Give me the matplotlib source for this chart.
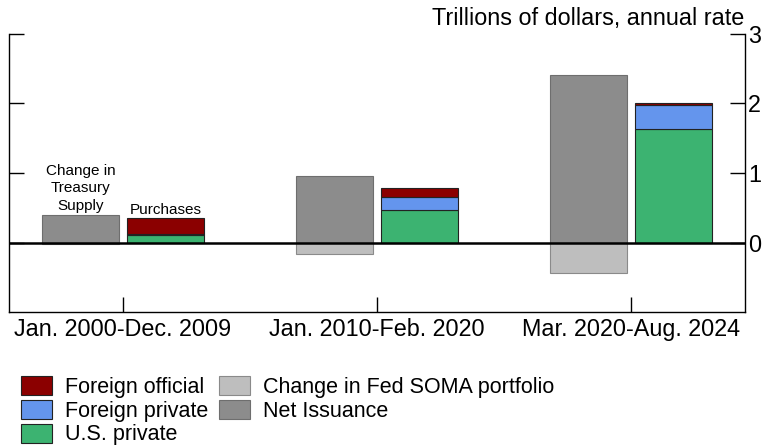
import matplotlib.pyplot as plt
import numpy as np

plt.rcParams['font.family'] = ['Liberation Sans', 'DejaVu Sans']

periods = ['Jan. 2000-Dec. 2009', 'Jan. 2010-Feb. 2020', 'Mar. 2020-Aug. 2024']
net_issuance = [0.39, 0.95, 2.41]
soma_change = [-0.02, -0.17, -0.43]
us_private = [0.115, 0.47, 1.63]
foreign_private = [0.015, 0.19, 0.34]
foreign_official = [0.23, 0.12, 0.03]

c_off, c_fpriv, c_us = '#8b0000', '#6495ed', '#3cb371'
c_soma, c_net = '#bebebe', '#8c8c8c'
fs = 16.8

fig = plt.figure(figsize=(7.66, 4.48), dpi=100)
ax = fig.add_axes([9/766, 1-312.3/448, (745-9)/766, (312.3-33.6)/448])

x = np.arange(1, len(periods)+1)
w = 0.303
off = 0.167

ax.bar(x-off, net_issuance, w, color=c_net, edgecolor='#6e6e6e', lw=0.8, label='Net Issuance')
ax.bar(x-off, soma_change, w, color=c_soma, edgecolor='#8a8a8a', lw=0.8, label='Change in Fed SOMA portfolio')
b1 = np.array(us_private)
b2 = b1 + np.array(foreign_private)
ax.bar(x+off, us_private, w, color=c_us, edgecolor='#222222', lw=0.8, label='U.S. private')
ax.bar(x+off, foreign_private, w, bottom=b1, color=c_fpriv, edgecolor='#222222', lw=0.8, label='Foreign private')
ax.bar(x+off, foreign_official, w, bottom=b2, color=c_off, edgecolor='#222222', lw=0.8, label='Foreign official')

ax.axhline(0, color='black', lw=1.8, zorder=5)

ax.set_xlim(0.551, 3.449)
ax.set_ylim(-1, 3)
ax.set_yticks([0, 1, 2, 3])
ax.set_xticks(x)
ax.set_xticklabels(periods)
ax.spines['top'].set_visible(False)
for s in ['left', 'right', 'bottom']:
    ax.spines[s].set_linewidth(1.0)
ax.tick_params(axis='y', left=True, right=True, labelleft=False, labelright=True,
               direction='in', length=11, width=1.0, labelsize=fs, pad=2)
ax.tick_params(axis='x', direction='in', length=11, width=1.0, labelsize=fs, pad=4)

ax.text(x[0]-off, net_issuance[0]+0.04, 'Change in\nTreasury\nSupply', ha='center', va='bottom',
        fontsize=11, linespacing=1.3)
ax.text(x[0]+off, 0.37, 'Purchases', ha='center', va='bottom', fontsize=11)

fig.text(744/766, 1-18/448, 'Trillions of dollars, annual rate', ha='right', va='center', fontsize=fs)

h, l = ax.get_legend_handles_labels()
order = [4, 3, 2, 1, 0]
fig.legend([h[i] for i in order], [l[i] for i in order], ncol=2, loc='upper left',
           bbox_to_anchor=(0.0274, 0.16), frameon=False, fontsize=15.5,
           handlelength=1.44, handleheight=0.98, handletextpad=0.6, labelspacing=0.08,
           columnspacing=0.5, borderaxespad=0, borderpad=0)

fig.savefig('out.png', dpi=100)
